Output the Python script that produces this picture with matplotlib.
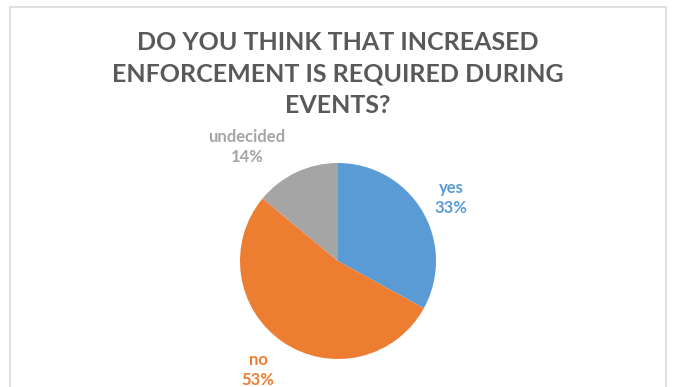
import matplotlib.pyplot as plt
from matplotlib.patches import Rectangle

categories = ['yes', 'no', 'undecided']
shares = [33, 53, 14]
colors = ['#5B9BD5', '#ED7D31', '#A5A5A5']
title = 'DO YOU THINK THAT INCREASED\nENFORCEMENT IS REQUIRED DURING\nEVENTS?'

fig = plt.figure(figsize=(6.75, 3.87), dpi=100)
ax = fig.add_axes([0, 0, 1, 1])

# chart border
ax.add_patch(Rectangle((10, -5), 656, 385, fill=False, edgecolor='#D9D9D9', linewidth=1.2))

wedges, texts = ax.pie(shares, colors=colors, startangle=90, counterclock=False,
                       center=(338, 126), radius=98, frame=True,
                       labels=[f'{c}\n{s}%' for c, s in zip(categories, shares)],
                       labeldistance=1.33,
                       textprops=dict(fontsize=12, fontweight='bold', family='Lato',
                                      ha='center', va='center', linespacing=1.35),
                       wedgeprops=dict(linewidth=0))
ax.set_xlim(0, 675)
ax.set_ylim(0, 387)
ax.set_aspect('equal')
ax.axis('off')

# label placement like the original data labels
label_pos = [(451, 189), (258, 17), (247, 240)]
for t, c, p in zip(texts, colors, label_pos):
    t.set_color(c)
    t.set_position(p)

ax.text(338, 313, title, ha='center', va='center', fontsize=18, fontweight='bold',
        family='Lato', color='#595959', linespacing=1.45)

fig.savefig('out.png', dpi=100)
